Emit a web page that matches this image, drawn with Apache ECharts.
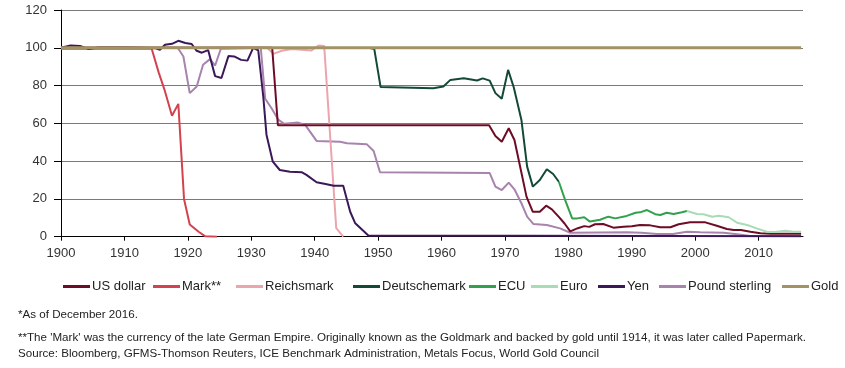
<!DOCTYPE html>
<html>
<head>
<meta charset="utf-8">
<script src="https://cdn.jsdelivr.net/npm/echarts@6/dist/echarts.min.js"></script>
<style>
html,body{margin:0;padding:0;background:#fff;}
#c{width:845px;height:368px;}
</style>
</head>
<body>
<div id="c"></div>
<script>
// ---- Data (index, 1900 = 100) ----
var seriesNames = ['US dollar', 'Mark**', 'Reichsmark', 'Deutschemark', 'ECU', 'Euro', 'Yen', 'Pound sterling', 'Gold'];
var yTicks = [0, 20, 40, 60, 80, 100, 120];

var usdYears = [1900, 1933.3, 1934.2, 1967.5, 1968.5, 1969.5, 1970.6, 1971.5, 1972.4, 1973.4, 1974.4, 1975.5, 1976.5, 1977.4, 1978.5, 1979.4, 1980.3, 1981.5, 1982.5, 1983.3, 1984.2, 1985.5, 1987.1, 1988.7, 1990, 1991.3, 1992.9, 1994.5, 1996.1, 1997.4, 1999.2, 2001.6, 2003.4, 2005, 2006.1, 2007.2, 2008.7, 2010.3, 2011.9, 2016.7];
var usdValues = [100, 100, 59, 59, 53.3, 50.3, 57.4, 51.2, 37, 21.2, 13.2, 13.2, 16.4, 14.5, 10.5, 7, 2.8, 4.5, 5.6, 5.2, 6.6, 6.7, 4.8, 5.3, 5.5, 6.2, 6.0, 5.0, 5.0, 6.6, 7.6, 7.6, 5.8, 4.1, 3.6, 3.5, 2.6, 1.8, 1.6, 1.6];

var markYears = [1900, 1914.3, 1915.4, 1916.3, 1917.5, 1918.5, 1919.4, 1920.3, 1921.7, 1922.7, 1924.6];
var markValues = [99.5, 99.5, 87, 78, 64, 70.3, 20, 6.5, 2.6, 0.3, 0];

var rmYears = [1924.5, 1932.5, 1933.5, 1934.8, 1936.4, 1939.5, 1940.6, 1941.5, 1943.4, 1944.5];
var rmValues = [100, 100, 96.8, 98.4, 99.3, 98.6, 101.2, 101, 4.5, 0];

var dmYears = [1948.6, 1949.4, 1950.4, 1958.7, 1960.3, 1961.4, 1963.5, 1965.6, 1966.5, 1967.6, 1968.5, 1969.5, 1970.5, 1971.4, 1972.6, 1973.5, 1974.4, 1975.5, 1976.6, 1977.6, 1978.5];
var dmValues = [100, 99.3, 79.2, 78.6, 79.5, 83, 83.9, 82.7, 83.8, 82.6, 76, 73, 88.3, 79, 61.8, 37.1, 26.5, 30, 35.7, 33.2, 29.1];

var ecuYears = [1978.5, 1979.5, 1980.6, 1981.4, 1982.5, 1983.4, 1985, 1986.3, 1987.4, 1989.2, 1990.6, 1991.3, 1992.4, 1993.7, 1994.5, 1995.5, 1996.6, 1997.9, 1998.7];
var ecuValues = [29.1, 19.4, 9.7, 9.7, 10.3, 8.0, 9.0, 10.6, 9.7, 11, 12.7, 12.9, 14.1, 11.9, 11.5, 12.7, 12, 12.9, 13.6];

var euroYears = [1998.7, 2000.3, 2001.3, 2002.7, 2003.7, 2005.3, 2006.6, 2008.2, 2009.7, 2011.3, 2012.6, 2014.2, 2015.5, 2016.7];
var euroValues = [13.6, 12, 11.9, 10.6, 11.1, 10.3, 7.4, 6.2, 4.4, 2.6, 2.5, 3.2, 2.6, 2.6];

var yenYears = [1900, 1901.5, 1903, 1904.4, 1906, 1910, 1913, 1914.8, 1915.6, 1916.4, 1917.5, 1918.5, 1919.6, 1920.6, 1921.4, 1922.2, 1923.2, 1924.3, 1925.3, 1926.4, 1927.3, 1928.4, 1929.4, 1930.3, 1931.1, 1931.9, 1932.4, 1933.4, 1934.5, 1936.1, 1938, 1938.7, 1940.3, 1941.9, 1943, 1944.5, 1945.6, 1946.4, 1948.5, 1972.5, 2016.7];
var yenValues = [100, 101.2, 101, 99.3, 100.3, 100.3, 100, 99.8, 99, 101.6, 102.1, 103.7, 102.5, 102, 98.4, 97.4, 98.8, 85, 84, 95.6, 95.4, 93.6, 93.2, 100, 98.7, 74, 54, 39.7, 35.3, 34.4, 34.1, 32.7, 28.8, 27.8, 27, 27, 13.2, 7.1, 0.5, 0.5, 0.3];

var gbpYears = [1900, 1914, 1918.4, 1919.3, 1920.3, 1921.4, 1922.4, 1923.5, 1924.3, 1925.2, 1931.5, 1932.2, 1933.2, 1934.3, 1935.2, 1937.4, 1938.5, 1940.3, 1944, 1945.1, 1948.2, 1949.3, 1950.3, 1967.6, 1968.5, 1969.5, 1970.6, 1971.5, 1972.6, 1973.5, 1974.5, 1976.6, 1978.7, 1980.3, 1989.2, 1991.5, 1994, 1996.5, 1998.7, 2000.8, 2004.5, 2006.6, 2008.7, 2016.7];
var gbpValues = [100, 100, 100, 95.4, 76, 79.5, 91, 94, 90.6, 99.5, 100, 73, 68, 61.8, 59.8, 60.4, 59.2, 50.7, 50.3, 49.5, 49, 45.4, 34.1, 33.7, 26.5, 24.7, 28.6, 25.1, 17.7, 10.6, 6.7, 6.2, 4.4, 2.1, 2.3, 2.1, 1.4, 1.4, 2.6, 2.3, 2.1, 1.3, 0.4, 0.4];

var goldYears = [1900, 2016.7];
var goldValues = [100, 100];

var footnotes = [
  '*As of December 2016.',
  "**The 'Mark' was the currency of the late German Empire. Originally known as the Goldmark and backed by gold until 1914, it was later called Papermark.",
  'Source: Bloomberg, GFMS-Thomson Reuters, ICE Benchmark Administration, Metals Focus, World Gold Council'
];

// ---- Build ----
function zip(xs, ys) { return xs.map(function (x, i) { return [x, ys[i]]; }); }
var allData = [
  zip(usdYears, usdValues), zip(markYears, markValues), zip(rmYears, rmValues),
  zip(dmYears, dmValues), zip(ecuYears, ecuValues), zip(euroYears, euroValues),
  zip(yenYears, yenValues), zip(gbpYears, gbpValues), zip(goldYears, goldValues)
];
var colors = ['#6e0b25', '#d2434f', '#eba5ad', '#134a35', '#33a04e', '#a9dcb5', '#3b1857', '#a783ae', '#a39264'];
var drawOrder = [7, 2, 1, 6, 0, 3, 4, 5, 8];
var legendLefts = [63, 153, 236, 353, 469, 531, 598, 659, 782];

var series = seriesNames.map(function (n, i) {
  return {
    name: n, type: 'line', data: allData[i], showSymbol: false, symbol: 'none',
    lineStyle: { color: colors[i], width: i === 8 ? 3 : 2 },
    itemStyle: { color: colors[i] },
    z: 2 + drawOrder.indexOf(i) / 10,
    silent: true, animation: false
  };
});

var legends = seriesNames.map(function (n, i) {
  return {
    data: [n], left: legendLefts[i], top: 280, icon: 'rect', itemWidth: 27, itemHeight: 3,
    textStyle: { color: '#222', fontSize: 13, fontFamily: 'Liberation Sans, Arial', padding: [0, 0, 0, -3] },
    selectedMode: false, padding: 0
  };
});

var chart = echarts.init(document.getElementById('c'), null, { renderer: 'canvas' });
chart.setOption({
  animation: false,
  color: colors,
  grid: { left: 61, right: 42, top: 10, bottom: 131.3, containLabel: false },
  xAxis: {
    type: 'value', min: 1900, max: 2017, interval: 10,
    axisLine: { show: true, lineStyle: { color: '#000', width: 1 } },
    axisTick: { show: true, length: 4, lineStyle: { color: '#000' } },
    axisLabel: { color: '#333', fontSize: 13, fontFamily: 'Liberation Sans, Arial', margin: 10, showMaxLabel: false,
      formatter: function (v) { return String(v); } },
    splitLine: { show: false }
  },
  yAxis: {
    type: 'value', min: yTicks[0], max: yTicks[yTicks.length - 1], interval: 20,
    axisLine: { show: true, lineStyle: { color: '#000', width: 1 } },
    axisTick: { show: true, length: 7, lineStyle: { color: '#000' } },
    axisLabel: { color: '#333', fontSize: 13, fontFamily: 'Liberation Sans, Arial', margin: 14 },
    splitLine: { show: true, lineStyle: { color: '#7a7a7a', width: 1 } }
  },
  legend: legends,
  graphic: footnotes.map(function (t, i) {
    return {
      type: 'text', left: 18, top: [309, 332, 348][i],
      style: { text: t, fill: '#222', font: '11.6px "Liberation Sans", Arial' }
    };
  }),
  series: series
});
</script>
</body>
</html>
